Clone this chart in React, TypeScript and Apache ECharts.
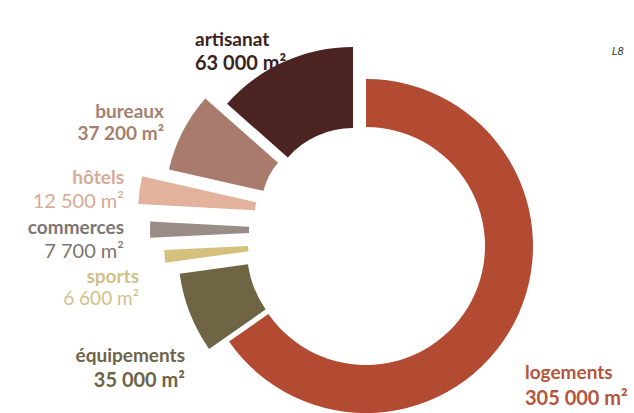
import React, { useEffect, useRef } from "react";
import * as echarts from "echarts";

// ---- data ----
const categories = ["logements", "équipements", "sports", "commerces", "hôtels", "bureaux", "artisanat"];
const values = [305000, 35000, 6600, 7700, 12500, 37200, 63000];
const unit = "m²";
const sliceColors = ["#b34a32", "#6f6443", "#d5c07e", "#9a8d87", "#e2b29c", "#a97b6c", "#4b2422"];
const labelColors = ["#b5553d", "#6e6447", "#d2bf8a", "#7d7570", "#d6ab95", "#a5806f", "#3b2321"];

// ---- layout (positions / sizes) ----
const sliceCenters: [number, number][] = [
  [366, 246], [351, 250], [308, 243], [308, 230], [304, 213], [326, 205], [353, 215],
];
const sliceRadii: [number, number][] = [
  [119, 167], [104, 173], [60, 144], [59, 158], [49, 166], [64, 161], [87, 168],
];
// label anchor: x, baseline of name, baseline of value, align, name weight, value weight, value size
const labelPos: [number, number, number, "left" | "right", string, string, number][] = [
  [525, 362, 387, "left", "bold", "bold", 20],
  [185, 345, 369, "right", "bold", "bold", 20],
  [139, 266, 288, "right", "bold", "normal", 19],
  [124, 217, 240, "right", "bold", "normal", 20],
  [124, 167, 190, "right", "bold", "normal", 20],
  [164, 101, 123, "right", "bold", "bold", 19],
  [195, 29, 52, "left", "bold", "bold", 20],
];

const fmt = (v: number) => String(v).replace(/\B(?=(\d{3})+(?!\d))/g, " ") + " " + unit;

export default function App() {
  const ref = useRef<HTMLDivElement>(null);
  useEffect(() => {
    if (!ref.current) return;
    const chart = echarts.init(ref.current, undefined, { renderer: "svg" });
    const series = categories.map((_, i) => ({
      type: "pie" as const,
      center: sliceCenters[i],
      radius: sliceRadii[i],
      startAngle: 90,
      clockwise: true,
      silent: true,
      avoidLabelOverlap: false,
      label: { show: false },
      labelLine: { show: false },
      emphasis: { disabled: true },
      itemStyle: { borderWidth: 0 },
      data: categories.map((name, j) => ({
        name,
        value: values[j],
        itemStyle: { color: j === i ? sliceColors[i] : "rgba(0,0,0,0)" },
      })),
    }));
    const texts: any[] = [];
    categories.forEach((name, i) => {
      const [x, y1, y2, align, w1, w2, vs] = labelPos[i];
      const base = {
        fill: labelColors[i],
        textAlign: align,
        textVerticalAlign: "alphabetic",
      };
      texts.push({
        type: "text", x, y: y1, silent: true,
        style: { ...base, text: name, font: `${w1} 19px Lato, "Noto Sans", sans-serif` },
      });
      texts.push({
        type: "text", x, y: y2, silent: true,
        style: { ...base, text: fmt(values[i]), font: `${w2} ${vs}px Lato, "Noto Sans", sans-serif` },
      });
    });
    texts.push({
      type: "text",
      x: 612,
      y: 46,
      silent: true,
      style: { text: "L8", fill: "#333", font: 'italic 10px "DejaVu Sans", sans-serif', textVerticalAlign: "alphabetic" },
    });
    chart.setOption({
      animation: false,
      backgroundColor: "#ffffff",
      series,
      graphic: { elements: texts },
    });
    return () => chart.dispose();
  }, []);
  return (
    <div
      ref={ref}
      style={{ position: "absolute", left: 0, top: 0, width: 634, height: 413, background: "#fff" }}
    />
  );
}
